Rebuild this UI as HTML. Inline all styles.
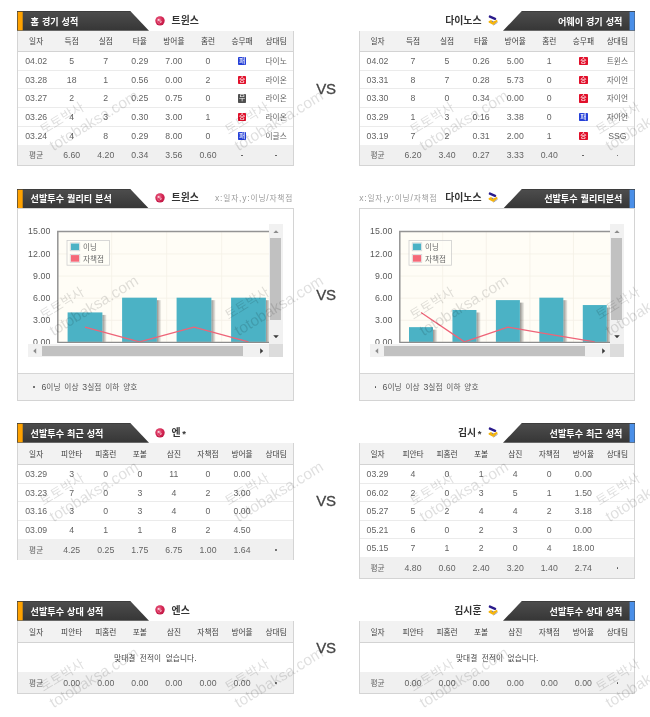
<!DOCTYPE html>
<html lang="ko"><head><meta charset="utf-8"><title>match stats</title><style>
html,body{margin:0;padding:0;background:#fff}
body{width:650px;height:717px;overflow:hidden;position:relative;font-family:"Liberation Sans","Noto Sans CJK KR",sans-serif;font-size:9px;color:#555}
#pg{filter:blur(0.35px);position:absolute;left:0;top:0;width:650px;height:717px;overflow:hidden;background:#fff}
.b,.t,.tl,.tr,.ttl,.ic,.bd,.sc,.wm,.ab,.vp{position:absolute}
.t,.tl,.tr{white-space:nowrap;line-height:10px;height:10px;font-size:8.7px}
.t{transform:translateX(-50%)}
span.k{font-family:"Liberation Sans","Noto Sans CJK KR",sans-serif;font-size:7.7px}
span.k.kb{font-size:9.1px;font-weight:bold}
.nm span.k.kb{font-size:9.9px}
.tb{background:#fff;border:1px solid #d4d4d4;box-sizing:border-box}
.th{background:#f2f2f2;border-bottom:1px solid #d3d3d3;box-sizing:border-box}
.tf{background:#f0f0f0}
.rl{background:#ebebeb}
.dt{background:#505050;border-radius:50%}
.cf{background:#f3f3f3}
.cl{background:#d6d6d6}
.h{color:#404040}
.d{color:#636363;letter-spacing:0.05px}
.tt{color:#fff;font-size:10.6px;font-weight:bold}
.nm{color:#333;font-weight:bold;font-size:10px}
.as{position:relative;top:1.2px;margin-left:1.6px;font-size:9.5px}
.cap{color:#9a9a9a;font-size:8.6px;letter-spacing:0.8px}
.fn{color:#555;word-spacing:1.3px}
.fn .dot{display:inline-block;width:1.9px;height:1.9px;border-radius:50%;background:#4a4a4a;margin:0 6px 0 0.6px;vertical-align:2.3px;font-size:0;line-height:0;overflow:hidden}
.bd{width:8.4px;height:8.6px;color:#fff;line-height:8.6px;text-align:center;border-radius:0.8px;overflow:hidden}
.bd span.k{display:block;font-size:6.8px;line-height:8.6px}
.sc{overflow:hidden}
.vs{background:#f1f1f1}
.hs{background:#f1f1f1}
.cr{background:#dcdcdc}
.thumb{background:#c1c1c1}
.yl{color:#5a5a5a;font-size:8.8px;letter-spacing:0.1px}
.lg{color:#6a6a6a}
.lg span.k{font-size:7.6px}
.t.vs{background:none;color:#454545;-webkit-text-stroke:0.3px #454545;font-size:15px;letter-spacing:-0.3px;line-height:16px;height:16px}
.wm{width:0;height:0;transform:rotate(-31.5deg);transform-origin:0 0;color:rgba(0,0,0,0.13);pointer-events:none}
.wm div{position:absolute;white-space:nowrap}
.w1{left:-0.6px;top:-31.2px;line-height:15px;height:15px}
.w1 span.k{font-size:13.3px;line-height:15px}
.w2{left:-0.5px;top:-13.4px;font-size:15.5px;line-height:16px;height:16px}
</style></head><body><svg width="0" height="0" style="position:absolute"><defs><linearGradient id="tg" x1="0" y1="0" x2="0" y2="1"><stop offset="0" stop-color="#333"/><stop offset="0.06" stop-color="#4c4c4c"/><stop offset="1" stop-color="#363636"/></linearGradient><radialGradient id="lg" cx="0.4" cy="0.35" r="0.7"><stop offset="0" stop-color="#ea6488"/><stop offset="0.55" stop-color="#d42552"/><stop offset="1" stop-color="#bd1543"/></radialGradient><linearGradient id="sh" x1="0" y1="0" x2="1" y2="0"><stop offset="0" stop-color="#000" stop-opacity=".42"/><stop offset="1" stop-color="#000" stop-opacity=".04"/></linearGradient></defs></svg><div id="pg"><svg class="ttl" style="left:17.1px;top:11.2px" width="132.1" height="19.8" viewBox="0 0 132.1 19.8"><path d="M0 0H113.3L132.1 19.8H0Z" fill="url(#tg)"/><rect x="0.7" y="0.8" width="5" height="18.5" fill="#ffa200"/></svg><div class="tl tt" style="left:30.6px;top:16.33px;"><span class="k kb">홈</span> <span class="k kb">경기</span> <span class="k kb">성적</span></div><svg class="ic" style="left:154px;top:14.6px" width="12" height="12" viewBox="0 0 12 12"><circle cx="6" cy="5.85" r="4.7" fill="url(#lg)"/><circle cx="4.4" cy="4.9" r="0.9" fill="#fdeaf0" opacity=".9"/><path d="M5.7 4.4L6.4 7.6L8 6.5" fill="none" stroke="#f9d3dc" stroke-width="0.9" opacity=".85"/><path d="M3.2 6.2A3 3 0 0 0 6 9" fill="none" stroke="#f3b3c3" stroke-width="0.6" opacity=".6"/></svg><div class="tl nm" style="left:171.6px;top:15.54px;"><span class="k kb">트윈스</span></div><svg class="ttl" style="left:503.2px;top:11.2px" width="132.1" height="19.8" viewBox="0 0 132.1 19.8"><path d="M18.8 0H132.1V19.8H0Z" fill="url(#tg)"/><rect x="126.6" y="0.8" width="5" height="18.5" fill="#4a8fe8"/></svg><div class="tr tt" style="right:27.6px;top:16.33px;"><span class="k kb">어웨이</span> <span class="k kb">경기</span> <span class="k kb">성적</span></div><svg class="ic" style="left:483px;top:10px" width="20" height="20" viewBox="0 0 20 20"><path d="M6.9 6.6L12.1 8.8" stroke="#2a1b8c" stroke-width="2.4" stroke-linecap="round"/><path d="M10.4 15.2L14.6 12.2" stroke="#6b7099" stroke-width="0.7"/><path d="M5.6 11.2L8 9.9L10.2 11.4L14 9.7L14.6 11.6L10.3 14.9L5.7 12.6Z" fill="#f3b40f"/><circle cx="9.6" cy="11.4" r="0.7" fill="#7c82b0"/></svg><div class="tr nm" style="right:168.5px;top:15.54px;"><span class="k kb">다이노스</span></div><div class="b tb" style="left:17.1px;top:31px;width:276.5px;height:134.8px;"></div><div class="b th" style="left:18.1px;top:31px;width:274.5px;height:20.9px;"></div><div class="t h" style="left:36.2px;top:35.99px;"><span class="k">일자</span></div><div class="t h" style="left:71.7px;top:35.99px;"><span class="k">득점</span></div><div class="t h" style="left:105.77px;top:35.99px;"><span class="k">실점</span></div><div class="t h" style="left:139.84px;top:35.99px;"><span class="k">타율</span></div><div class="t h" style="left:173.91px;top:35.99px;"><span class="k">방어율</span></div><div class="t h" style="left:207.98px;top:35.99px;"><span class="k">홈런</span></div><div class="t h" style="left:242.05px;top:35.99px;"><span class="k">승무패</span></div><div class="t h" style="left:276.12px;top:35.99px;"><span class="k">상대팀</span></div><div class="t d" style="left:36.2px;top:55.99px;">04.02</div><div class="t d" style="left:71.7px;top:55.99px;">5</div><div class="t d" style="left:105.77px;top:55.99px;">7</div><div class="t d" style="left:139.84px;top:55.99px;">0.29</div><div class="t d" style="left:173.91px;top:55.99px;">7.00</div><div class="t d" style="left:207.98px;top:55.99px;">0</div><div class="bd" style="left:237.85px;top:56.84px;background:#2540d8"><span class="k">패</span></div><div class="t d" style="left:276.12px;top:55.99px;"><span class="k">다이노</span></div><div class="b rl" style="left:18.1px;top:69.68px;width:274.5px;height:1px;"></div><div class="t d" style="left:36.2px;top:74.99px;">03.28</div><div class="t d" style="left:71.7px;top:74.99px;">18</div><div class="t d" style="left:105.77px;top:74.99px;">1</div><div class="t d" style="left:139.84px;top:74.99px;">0.56</div><div class="t d" style="left:173.91px;top:74.99px;">0.00</div><div class="t d" style="left:207.98px;top:74.99px;">2</div><div class="bd" style="left:237.85px;top:75.52px;background:#e10f2a"><span class="k">승</span></div><div class="t d" style="left:276.12px;top:74.99px;"><span class="k">라이온</span></div><div class="b rl" style="left:18.1px;top:88.36px;width:274.5px;height:1px;"></div><div class="t d" style="left:36.2px;top:92.99px;">03.27</div><div class="t d" style="left:71.7px;top:92.99px;">2</div><div class="t d" style="left:105.77px;top:92.99px;">2</div><div class="t d" style="left:139.84px;top:92.99px;">0.25</div><div class="t d" style="left:173.91px;top:92.99px;">0.75</div><div class="t d" style="left:207.98px;top:92.99px;">0</div><div class="bd" style="left:237.85px;top:94.2px;background:#505050"><span class="k">무</span></div><div class="t d" style="left:276.12px;top:92.99px;"><span class="k">라이온</span></div><div class="b rl" style="left:18.1px;top:107.04px;width:274.5px;height:1px;"></div><div class="t d" style="left:36.2px;top:111.99px;">03.26</div><div class="t d" style="left:71.7px;top:111.99px;">4</div><div class="t d" style="left:105.77px;top:111.99px;">3</div><div class="t d" style="left:139.84px;top:111.99px;">0.30</div><div class="t d" style="left:173.91px;top:111.99px;">3.00</div><div class="t d" style="left:207.98px;top:111.99px;">1</div><div class="bd" style="left:237.85px;top:112.88px;background:#e10f2a"><span class="k">승</span></div><div class="t d" style="left:276.12px;top:111.99px;"><span class="k">라이온</span></div><div class="b rl" style="left:18.1px;top:125.72px;width:274.5px;height:1px;"></div><div class="t d" style="left:36.2px;top:130.99px;">03.24</div><div class="t d" style="left:71.7px;top:130.99px;">4</div><div class="t d" style="left:105.77px;top:130.99px;">8</div><div class="t d" style="left:139.84px;top:130.99px;">0.29</div><div class="t d" style="left:173.91px;top:130.99px;">8.00</div><div class="t d" style="left:207.98px;top:130.99px;">0</div><div class="bd" style="left:237.85px;top:131.56px;background:#2540d8"><span class="k">패</span></div><div class="t d" style="left:276.12px;top:130.99px;"><span class="k">이글스</span></div><div class="b tf" style="left:18.1px;top:144.6px;width:274.5px;height:20.7px;"></div><div class="t d" style="left:36.2px;top:149.99px;"><span class="k">평균</span></div><div class="t d" style="left:71.7px;top:149.99px;">6.60</div><div class="t d" style="left:105.77px;top:149.99px;">4.20</div><div class="t d" style="left:139.84px;top:149.99px;">0.34</div><div class="t d" style="left:173.91px;top:149.99px;">3.56</div><div class="t d" style="left:207.98px;top:149.99px;">0.60</div><div class="b dt" style="left:241.15px;top:154.65px;width:1.8px;height:1.8px;"></div><div class="b dt" style="left:275.22px;top:154.65px;width:1.8px;height:1.8px;"></div><div class="b tb" style="left:359.2px;top:31px;width:276.1px;height:134.8px;"></div><div class="b th" style="left:360.2px;top:31px;width:274.1px;height:20.9px;"></div><div class="t h" style="left:377.5px;top:35.99px;"><span class="k">일자</span></div><div class="t h" style="left:413px;top:35.99px;"><span class="k">득점</span></div><div class="t h" style="left:447.07px;top:35.99px;"><span class="k">실점</span></div><div class="t h" style="left:481.14px;top:35.99px;"><span class="k">타율</span></div><div class="t h" style="left:515.21px;top:35.99px;"><span class="k">방어율</span></div><div class="t h" style="left:549.28px;top:35.99px;"><span class="k">홈런</span></div><div class="t h" style="left:583.35px;top:35.99px;"><span class="k">승무패</span></div><div class="t h" style="left:617.42px;top:35.99px;"><span class="k">상대팀</span></div><div class="t d" style="left:377.5px;top:55.99px;">04.02</div><div class="t d" style="left:413px;top:55.99px;">7</div><div class="t d" style="left:447.07px;top:55.99px;">5</div><div class="t d" style="left:481.14px;top:55.99px;">0.26</div><div class="t d" style="left:515.21px;top:55.99px;">5.00</div><div class="t d" style="left:549.28px;top:55.99px;">1</div><div class="bd" style="left:579.15px;top:56.84px;background:#e10f2a"><span class="k">승</span></div><div class="t d" style="left:617.42px;top:55.99px;"><span class="k">트윈스</span></div><div class="b rl" style="left:360.2px;top:69.68px;width:274.1px;height:1px;"></div><div class="t d" style="left:377.5px;top:74.99px;">03.31</div><div class="t d" style="left:413px;top:74.99px;">8</div><div class="t d" style="left:447.07px;top:74.99px;">7</div><div class="t d" style="left:481.14px;top:74.99px;">0.28</div><div class="t d" style="left:515.21px;top:74.99px;">5.73</div><div class="t d" style="left:549.28px;top:74.99px;">0</div><div class="bd" style="left:579.15px;top:75.52px;background:#e10f2a"><span class="k">승</span></div><div class="t d" style="left:617.42px;top:74.99px;"><span class="k">자이언</span></div><div class="b rl" style="left:360.2px;top:88.36px;width:274.1px;height:1px;"></div><div class="t d" style="left:377.5px;top:92.99px;">03.30</div><div class="t d" style="left:413px;top:92.99px;">8</div><div class="t d" style="left:447.07px;top:92.99px;">0</div><div class="t d" style="left:481.14px;top:92.99px;">0.34</div><div class="t d" style="left:515.21px;top:92.99px;">0.00</div><div class="t d" style="left:549.28px;top:92.99px;">0</div><div class="bd" style="left:579.15px;top:94.2px;background:#e10f2a"><span class="k">승</span></div><div class="t d" style="left:617.42px;top:92.99px;"><span class="k">자이언</span></div><div class="b rl" style="left:360.2px;top:107.04px;width:274.1px;height:1px;"></div><div class="t d" style="left:377.5px;top:111.99px;">03.29</div><div class="t d" style="left:413px;top:111.99px;">1</div><div class="t d" style="left:447.07px;top:111.99px;">3</div><div class="t d" style="left:481.14px;top:111.99px;">0.16</div><div class="t d" style="left:515.21px;top:111.99px;">3.38</div><div class="t d" style="left:549.28px;top:111.99px;">0</div><div class="bd" style="left:579.15px;top:112.88px;background:#2540d8"><span class="k">패</span></div><div class="t d" style="left:617.42px;top:111.99px;"><span class="k">자이언</span></div><div class="b rl" style="left:360.2px;top:125.72px;width:274.1px;height:1px;"></div><div class="t d" style="left:377.5px;top:130.99px;">03.19</div><div class="t d" style="left:413px;top:130.99px;">7</div><div class="t d" style="left:447.07px;top:130.99px;">2</div><div class="t d" style="left:481.14px;top:130.99px;">0.31</div><div class="t d" style="left:515.21px;top:130.99px;">2.00</div><div class="t d" style="left:549.28px;top:130.99px;">1</div><div class="bd" style="left:579.15px;top:131.56px;background:#e10f2a"><span class="k">승</span></div><div class="t d" style="left:617.42px;top:130.99px;">SSG</div><div class="b tf" style="left:360.2px;top:144.6px;width:274.1px;height:20.7px;"></div><div class="t d" style="left:377.5px;top:149.99px;"><span class="k">평균</span></div><div class="t d" style="left:413px;top:149.99px;">6.20</div><div class="t d" style="left:447.07px;top:149.99px;">3.40</div><div class="t d" style="left:481.14px;top:149.99px;">0.27</div><div class="t d" style="left:515.21px;top:149.99px;">3.33</div><div class="t d" style="left:549.28px;top:149.99px;">0.40</div><div class="b dt" style="left:582.45px;top:154.65px;width:1.8px;height:1.8px;"></div><div class="b dt" style="left:616.52px;top:154.65px;width:1.8px;height:1.8px;"></div><svg class="ttl" style="left:17.1px;top:188.5px" width="132.1" height="19.8" viewBox="0 0 132.1 19.8"><path d="M0 0H113.3L132.1 19.8H0Z" fill="url(#tg)"/><rect x="0.7" y="0.8" width="5" height="18.5" fill="#ffa200"/></svg><div class="tl tt" style="left:30.6px;top:193.33px;"><span class="k kb">선발투수</span> <span class="k kb">퀄리티</span> <span class="k kb">분석</span></div><svg class="ic" style="left:154px;top:191.9px" width="12" height="12" viewBox="0 0 12 12"><circle cx="6" cy="5.85" r="4.7" fill="url(#lg)"/><circle cx="4.4" cy="4.9" r="0.9" fill="#fdeaf0" opacity=".9"/><path d="M5.7 4.4L6.4 7.6L8 6.5" fill="none" stroke="#f9d3dc" stroke-width="0.9" opacity=".85"/><path d="M3.2 6.2A3 3 0 0 0 6 9" fill="none" stroke="#f3b3c3" stroke-width="0.6" opacity=".6"/></svg><div class="tl nm" style="left:171.6px;top:192.53px;"><span class="k kb">트윈스</span></div><div class="tl cap" style="left:215px;top:193.02px;">x:<span class="k">일자</span>,y:<span class="k">이닝</span>/<span class="k">자책점</span></div><svg class="ttl" style="left:503.2px;top:188.5px" width="132.1" height="19.8" viewBox="0 0 132.1 19.8"><path d="M18.8 0H132.1V19.8H0Z" fill="url(#tg)"/><rect x="126.6" y="0.8" width="5" height="18.5" fill="#4a8fe8"/></svg><div class="tr tt" style="right:27.6px;top:193.33px;"><span class="k kb">선발투수</span> <span class="k kb">퀄리티분석</span></div><svg class="ic" style="left:483px;top:187.3px" width="20" height="20" viewBox="0 0 20 20"><path d="M6.9 6.6L12.1 8.8" stroke="#2a1b8c" stroke-width="2.4" stroke-linecap="round"/><path d="M10.4 15.2L14.6 12.2" stroke="#6b7099" stroke-width="0.7"/><path d="M5.6 11.2L8 9.9L10.2 11.4L14 9.7L14.6 11.6L10.3 14.9L5.7 12.6Z" fill="#f3b40f"/><circle cx="9.6" cy="11.4" r="0.7" fill="#7c82b0"/></svg><div class="tr nm" style="right:168.5px;top:192.53px;"><span class="k kb">다이노스</span></div><div class="tr cap" style="right:212.7px;top:193.02px;">x:<span class="k">일자</span>,y:<span class="k">이닝</span>/<span class="k">자책점</span></div><div class="b tb" style="left:17.1px;top:208.3px;width:276.5px;height:192.4px;"></div><div class="b cf" style="left:18.1px;top:373.9px;width:274.5px;height:26px;"></div><div class="b cl" style="left:18.1px;top:373.4px;width:274.5px;height:1px;"></div><div class="tl d fn" style="left:32.9px;top:381.99px;"><span class="dot">·</span>6<span class="k">이닝</span> <span class="k">이상</span> 3<span class="k">실점</span> <span class="k">이하</span> <span class="k">양호</span></div><div class="sc" style="left:28.2px;top:224.4px;width:254.6px;height:133px"><svg class="vp" width="241.2" height="120" viewBox="0 0 241.2 120"><rect x="29.2" y="7.35" width="217" height="110.55" fill="#fffdf6"/><path d="M29.2 29.96H246.2" stroke="#f4f0e6" stroke-width="0.8"/><path d="M29.2 52.07H246.2" stroke="#f4f0e6" stroke-width="0.8"/><path d="M29.2 74.18H246.2" stroke="#f4f0e6" stroke-width="0.8"/><path d="M29.2 96.29H246.2" stroke="#f4f0e6" stroke-width="0.8"/><path d="M83.7 7.35V117.9" stroke="#f4f0e6" stroke-width="0.8"/><path d="M138.7 7.35V117.9" stroke="#f4f0e6" stroke-width="0.8"/><path d="M193.7 7.35V117.9" stroke="#f4f0e6" stroke-width="0.8"/><rect x="74.4" y="90.92" width="4.2" height="26.98" fill="url(#sh)"/><rect x="39.6" y="88.42" width="34.8" height="29.48" fill="#4bb2c5"/><rect x="128.9" y="76.18" width="4.2" height="41.72" fill="url(#sh)"/><rect x="94.1" y="73.68" width="34.8" height="44.22" fill="#4bb2c5"/><rect x="183.4" y="76.18" width="4.2" height="41.72" fill="url(#sh)"/><rect x="148.6" y="73.68" width="34.8" height="44.22" fill="#4bb2c5"/><rect x="237.9" y="76.18" width="4.2" height="41.72" fill="url(#sh)"/><rect x="203.1" y="73.68" width="34.8" height="44.22" fill="#4bb2c5"/><path d="M57 103.16L111.5 117.9L166 103.16L220.5 117.9" fill="none" stroke="#ee6478" stroke-width="1.3" stroke-linejoin="round"/><path d="M29.8 118.2V7.4H246.2" fill="none" stroke="#949494" stroke-width="1.5"/><path d="M29.2 118.35H246.2" fill="none" stroke="#8c8c8c" stroke-width="1.3"/><rect x="39" y="16.5" width="42.4" height="24.7" fill="#fffdf8" fill-opacity=".7" stroke="#cfcfcf" stroke-width="0.8"/><rect x="42.2" y="18.8" width="9.6" height="8" fill="#fff" stroke="#d2d2d2" stroke-width="0.7"/><rect x="42.9" y="19.5" width="8.2" height="6.6" fill="#4bb2c5"/><rect x="42.2" y="30.4" width="9.6" height="8" fill="#fff" stroke="#d2d2d2" stroke-width="0.7"/><rect x="42.9" y="31.1" width="8.2" height="6.6" fill="#f56978"/></svg><div class="tl lg" style="left:54.8px;top:17.59px"><span class="k">이닝</span></div><div class="tl lg" style="left:54.8px;top:29.59px"><span class="k">자책점</span></div><div class="tr yl" style="right:232.2px;top:1.55px">15.00</div><div class="tr yl" style="right:232.2px;top:24.55px">12.00</div><div class="tr yl" style="right:232.2px;top:46.55px">9.00</div><div class="tr yl" style="right:232.2px;top:68.55px">6.00</div><div class="tr yl" style="right:232.2px;top:90.55px">3.00</div><div class="tr yl" style="right:232.2px;top:112.55px">0.00</div><div class="b vs" style="left:241.2px;top:0;width:13.4px;height:120px"></div><div class="b thumb" style="left:241.9px;top:13.6px;width:10.9px;height:81.9px"></div><svg class="ab" style="left:244.7px;top:5.6px" width="6" height="3.4" viewBox="0 0 6 3.4"><path d="M0.2 3.2L3 0.2L5.8 3.2Z" fill="#8c8c8c"/></svg><svg class="ab" style="left:244.7px;top:110.7px" width="6" height="3.4" viewBox="0 0 6 3.4"><path d="M0.2 0.2L3 3.2L5.8 0.2Z" fill="#3a3a3a"/></svg><div class="b hs" style="left:0;top:120px;width:241.2px;height:13.4px"></div><div class="b thumb" style="left:13.6px;top:121.4px;width:201px;height:10.4px"></div><svg class="ab" style="left:5.2px;top:123.7px" width="3.4" height="6" viewBox="0 0 3.4 6"><path d="M3.2 0.2L0.2 3L3.2 5.8Z" fill="#8c8c8c"/></svg><svg class="ab" style="left:232px;top:123.7px" width="3.4" height="6" viewBox="0 0 3.4 6"><path d="M0.2 0.2L3.2 3L0.2 5.8Z" fill="#3a3a3a"/></svg><div class="b cr" style="left:241.2px;top:120px;width:13.4px;height:13.4px"></div></div><div class="b tb" style="left:359.2px;top:208.3px;width:276.1px;height:192.4px;"></div><div class="b cf" style="left:360.2px;top:373.9px;width:274.1px;height:26px;"></div><div class="b cl" style="left:360.2px;top:373.4px;width:274.1px;height:1px;"></div><div class="tl d fn" style="left:374px;top:381.99px;"><span class="dot">·</span>6<span class="k">이닝</span> <span class="k">이상</span> 3<span class="k">실점</span> <span class="k">이하</span> <span class="k">양호</span></div><div class="sc" style="left:370.2px;top:224.4px;width:253.6px;height:133px"><svg class="vp" width="240.2" height="120" viewBox="0 0 240.2 120"><rect x="29.2" y="7.35" width="216" height="110.55" fill="#fffdf6"/><path d="M29.2 29.96H245.2" stroke="#f4f0e6" stroke-width="0.8"/><path d="M29.2 52.07H245.2" stroke="#f4f0e6" stroke-width="0.8"/><path d="M29.2 74.18H245.2" stroke="#f4f0e6" stroke-width="0.8"/><path d="M29.2 96.29H245.2" stroke="#f4f0e6" stroke-width="0.8"/><path d="M72.7 7.35V117.9" stroke="#f4f0e6" stroke-width="0.8"/><path d="M116.3 7.35V117.9" stroke="#f4f0e6" stroke-width="0.8"/><path d="M159.9 7.35V117.9" stroke="#f4f0e6" stroke-width="0.8"/><path d="M203.5 7.35V117.9" stroke="#f4f0e6" stroke-width="0.8"/><path d="M247.1 7.35V117.9" stroke="#f4f0e6" stroke-width="0.8"/><rect x="63" y="105.66" width="4.2" height="12.24" fill="url(#sh)"/><rect x="39" y="103.16" width="24" height="14.74" fill="#4bb2c5"/><rect x="106.45" y="88.49" width="4.2" height="29.41" fill="url(#sh)"/><rect x="82.45" y="85.99" width="24" height="31.91" fill="#4bb2c5"/><rect x="149.9" y="78.61" width="4.2" height="39.29" fill="url(#sh)"/><rect x="125.9" y="76.11" width="24" height="41.79" fill="#4bb2c5"/><rect x="193.35" y="76.18" width="4.2" height="41.72" fill="url(#sh)"/><rect x="169.35" y="73.68" width="24" height="44.22" fill="#4bb2c5"/><rect x="236.8" y="83.55" width="4.2" height="34.35" fill="url(#sh)"/><rect x="212.8" y="81.05" width="24" height="36.85" fill="#4bb2c5"/><path d="M51 88.42L94.45 117.9L137.9 103.16L181.35 110.53L224.8 117.9" fill="none" stroke="#ee6478" stroke-width="1.3" stroke-linejoin="round"/><path d="M29.8 118.2V7.4H245.2" fill="none" stroke="#949494" stroke-width="1.5"/><path d="M29.2 118.35H245.2" fill="none" stroke="#8c8c8c" stroke-width="1.3"/><rect x="39" y="16.5" width="42.4" height="24.7" fill="#fffdf8" fill-opacity=".7" stroke="#cfcfcf" stroke-width="0.8"/><rect x="42.2" y="18.8" width="9.6" height="8" fill="#fff" stroke="#d2d2d2" stroke-width="0.7"/><rect x="42.9" y="19.5" width="8.2" height="6.6" fill="#4bb2c5"/><rect x="42.2" y="30.4" width="9.6" height="8" fill="#fff" stroke="#d2d2d2" stroke-width="0.7"/><rect x="42.9" y="31.1" width="8.2" height="6.6" fill="#f56978"/></svg><div class="tl lg" style="left:54.8px;top:17.59px"><span class="k">이닝</span></div><div class="tl lg" style="left:54.8px;top:29.59px"><span class="k">자책점</span></div><div class="tr yl" style="right:231.2px;top:1.55px">15.00</div><div class="tr yl" style="right:231.2px;top:24.55px">12.00</div><div class="tr yl" style="right:231.2px;top:46.55px">9.00</div><div class="tr yl" style="right:231.2px;top:68.55px">6.00</div><div class="tr yl" style="right:231.2px;top:90.55px">3.00</div><div class="tr yl" style="right:231.2px;top:112.55px">0.00</div><div class="b vs" style="left:240.2px;top:0;width:13.4px;height:120px"></div><div class="b thumb" style="left:240.9px;top:13.6px;width:10.9px;height:81.9px"></div><svg class="ab" style="left:243.7px;top:5.6px" width="6" height="3.4" viewBox="0 0 6 3.4"><path d="M0.2 3.2L3 0.2L5.8 3.2Z" fill="#8c8c8c"/></svg><svg class="ab" style="left:243.7px;top:110.7px" width="6" height="3.4" viewBox="0 0 6 3.4"><path d="M0.2 0.2L3 3.2L5.8 0.2Z" fill="#3a3a3a"/></svg><div class="b hs" style="left:0;top:120px;width:240.2px;height:13.4px"></div><div class="b thumb" style="left:13.6px;top:121.4px;width:201px;height:10.4px"></div><svg class="ab" style="left:5.2px;top:123.7px" width="3.4" height="6" viewBox="0 0 3.4 6"><path d="M3.2 0.2L0.2 3L3.2 5.8Z" fill="#8c8c8c"/></svg><svg class="ab" style="left:232px;top:123.7px" width="3.4" height="6" viewBox="0 0 3.4 6"><path d="M0.2 0.2L3.2 3L0.2 5.8Z" fill="#3a3a3a"/></svg><div class="b cr" style="left:240.2px;top:120px;width:13.4px;height:13.4px"></div></div><svg class="ttl" style="left:17.1px;top:423.1px" width="132.1" height="19.8" viewBox="0 0 132.1 19.8"><path d="M0 0H113.3L132.1 19.8H0Z" fill="url(#tg)"/><rect x="0.7" y="0.8" width="5" height="18.5" fill="#ffa200"/></svg><div class="tl tt" style="left:30.6px;top:428.33px;"><span class="k kb">선발투수</span> <span class="k kb">최근</span> <span class="k kb">성적</span></div><svg class="ic" style="left:154px;top:426.5px" width="12" height="12" viewBox="0 0 12 12"><circle cx="6" cy="5.85" r="4.7" fill="url(#lg)"/><circle cx="4.4" cy="4.9" r="0.9" fill="#fdeaf0" opacity=".9"/><path d="M5.7 4.4L6.4 7.6L8 6.5" fill="none" stroke="#f9d3dc" stroke-width="0.9" opacity=".85"/><path d="M3.2 6.2A3 3 0 0 0 6 9" fill="none" stroke="#f3b3c3" stroke-width="0.6" opacity=".6"/></svg><div class="tl nm" style="left:171.6px;top:427.54px;"><span class="k kb">엔</span><span class="as">*</span></div><svg class="ttl" style="left:503.2px;top:423.1px" width="132.1" height="19.8" viewBox="0 0 132.1 19.8"><path d="M18.8 0H132.1V19.8H0Z" fill="url(#tg)"/><rect x="126.6" y="0.8" width="5" height="18.5" fill="#4a8fe8"/></svg><div class="tr tt" style="right:27.6px;top:428.33px;"><span class="k kb">선발투수</span> <span class="k kb">최근</span> <span class="k kb">성적</span></div><svg class="ic" style="left:483px;top:421.9px" width="20" height="20" viewBox="0 0 20 20"><path d="M6.9 6.6L12.1 8.8" stroke="#2a1b8c" stroke-width="2.4" stroke-linecap="round"/><path d="M10.4 15.2L14.6 12.2" stroke="#6b7099" stroke-width="0.7"/><path d="M5.6 11.2L8 9.9L10.2 11.4L14 9.7L14.6 11.6L10.3 14.9L5.7 12.6Z" fill="#f3b40f"/><circle cx="9.6" cy="11.4" r="0.7" fill="#7c82b0"/></svg><div class="tr nm" style="right:168.5px;top:427.54px;"><span class="k kb">김시</span><span class="as">*</span></div><div class="b tb" style="left:17.1px;top:442.9px;width:276.5px;height:117.3px;"></div><div class="b th" style="left:18.1px;top:442.9px;width:274.5px;height:21.9px;"></div><div class="t h" style="left:36.2px;top:448.99px;"><span class="k">일자</span></div><div class="t h" style="left:71.7px;top:448.99px;"><span class="k">피안타</span></div><div class="t h" style="left:105.77px;top:448.99px;"><span class="k">피홈런</span></div><div class="t h" style="left:139.84px;top:448.99px;"><span class="k">포볼</span></div><div class="t h" style="left:173.91px;top:448.99px;"><span class="k">삼진</span></div><div class="t h" style="left:207.98px;top:448.99px;"><span class="k">자책점</span></div><div class="t h" style="left:242.05px;top:448.99px;"><span class="k">방어율</span></div><div class="t h" style="left:276.12px;top:448.99px;"><span class="k">상대팀</span></div><div class="t d" style="left:36.2px;top:468.99px;">03.29</div><div class="t d" style="left:71.7px;top:468.99px;">3</div><div class="t d" style="left:105.77px;top:468.99px;">0</div><div class="t d" style="left:139.84px;top:468.99px;">0</div><div class="t d" style="left:173.91px;top:468.99px;">11</div><div class="t d" style="left:207.98px;top:468.99px;">0</div><div class="t d" style="left:242.05px;top:468.99px;">0.00</div><div class="b rl" style="left:18.1px;top:482.5px;width:274.5px;height:1px;"></div><div class="t d" style="left:36.2px;top:487.99px;">03.23</div><div class="t d" style="left:71.7px;top:487.99px;">7</div><div class="t d" style="left:105.77px;top:487.99px;">0</div><div class="t d" style="left:139.84px;top:487.99px;">3</div><div class="t d" style="left:173.91px;top:487.99px;">4</div><div class="t d" style="left:207.98px;top:487.99px;">2</div><div class="t d" style="left:242.05px;top:487.99px;">3.00</div><div class="b rl" style="left:18.1px;top:501.1px;width:274.5px;height:1px;"></div><div class="t d" style="left:36.2px;top:505.99px;">03.16</div><div class="t d" style="left:71.7px;top:505.99px;">3</div><div class="t d" style="left:105.77px;top:505.99px;">0</div><div class="t d" style="left:139.84px;top:505.99px;">3</div><div class="t d" style="left:173.91px;top:505.99px;">4</div><div class="t d" style="left:207.98px;top:505.99px;">0</div><div class="t d" style="left:242.05px;top:505.99px;">0.00</div><div class="b rl" style="left:18.1px;top:519.7px;width:274.5px;height:1px;"></div><div class="t d" style="left:36.2px;top:524.99px;">03.09</div><div class="t d" style="left:71.7px;top:524.99px;">4</div><div class="t d" style="left:105.77px;top:524.99px;">1</div><div class="t d" style="left:139.84px;top:524.99px;">1</div><div class="t d" style="left:173.91px;top:524.99px;">8</div><div class="t d" style="left:207.98px;top:524.99px;">2</div><div class="t d" style="left:242.05px;top:524.99px;">4.50</div><div class="b tf" style="left:18.1px;top:538.5px;width:274.5px;height:21.2px;"></div><div class="t d" style="left:36.2px;top:544.99px;"><span class="k">평균</span></div><div class="t d" style="left:71.7px;top:544.99px;">4.25</div><div class="t d" style="left:105.77px;top:544.99px;">0.25</div><div class="t d" style="left:139.84px;top:544.99px;">1.75</div><div class="t d" style="left:173.91px;top:544.99px;">6.75</div><div class="t d" style="left:207.98px;top:544.99px;">1.00</div><div class="t d" style="left:242.05px;top:544.99px;">1.64</div><div class="b dt" style="left:275.22px;top:548.8px;width:1.8px;height:1.8px;"></div><div class="b tb" style="left:359.2px;top:442.9px;width:276.1px;height:135.9px;"></div><div class="b th" style="left:360.2px;top:442.9px;width:274.1px;height:21.9px;"></div><div class="t h" style="left:377.5px;top:448.99px;"><span class="k">일자</span></div><div class="t h" style="left:413px;top:448.99px;"><span class="k">피안타</span></div><div class="t h" style="left:447.07px;top:448.99px;"><span class="k">피홈런</span></div><div class="t h" style="left:481.14px;top:448.99px;"><span class="k">포볼</span></div><div class="t h" style="left:515.21px;top:448.99px;"><span class="k">삼진</span></div><div class="t h" style="left:549.28px;top:448.99px;"><span class="k">자책점</span></div><div class="t h" style="left:583.35px;top:448.99px;"><span class="k">방어율</span></div><div class="t h" style="left:617.42px;top:448.99px;"><span class="k">상대팀</span></div><div class="t d" style="left:377.5px;top:468.99px;">03.29</div><div class="t d" style="left:413px;top:468.99px;">4</div><div class="t d" style="left:447.07px;top:468.99px;">0</div><div class="t d" style="left:481.14px;top:468.99px;">1</div><div class="t d" style="left:515.21px;top:468.99px;">4</div><div class="t d" style="left:549.28px;top:468.99px;">0</div><div class="t d" style="left:583.35px;top:468.99px;">0.00</div><div class="b rl" style="left:360.2px;top:482.5px;width:274.1px;height:1px;"></div><div class="t d" style="left:377.5px;top:487.99px;">06.02</div><div class="t d" style="left:413px;top:487.99px;">2</div><div class="t d" style="left:447.07px;top:487.99px;">0</div><div class="t d" style="left:481.14px;top:487.99px;">3</div><div class="t d" style="left:515.21px;top:487.99px;">5</div><div class="t d" style="left:549.28px;top:487.99px;">1</div><div class="t d" style="left:583.35px;top:487.99px;">1.50</div><div class="b rl" style="left:360.2px;top:501.1px;width:274.1px;height:1px;"></div><div class="t d" style="left:377.5px;top:505.99px;">05.27</div><div class="t d" style="left:413px;top:505.99px;">5</div><div class="t d" style="left:447.07px;top:505.99px;">2</div><div class="t d" style="left:481.14px;top:505.99px;">4</div><div class="t d" style="left:515.21px;top:505.99px;">4</div><div class="t d" style="left:549.28px;top:505.99px;">2</div><div class="t d" style="left:583.35px;top:505.99px;">3.18</div><div class="b rl" style="left:360.2px;top:519.7px;width:274.1px;height:1px;"></div><div class="t d" style="left:377.5px;top:524.99px;">05.21</div><div class="t d" style="left:413px;top:524.99px;">6</div><div class="t d" style="left:447.07px;top:524.99px;">0</div><div class="t d" style="left:481.14px;top:524.99px;">2</div><div class="t d" style="left:515.21px;top:524.99px;">3</div><div class="t d" style="left:549.28px;top:524.99px;">0</div><div class="t d" style="left:583.35px;top:524.99px;">0.00</div><div class="b rl" style="left:360.2px;top:538.3px;width:274.1px;height:1px;"></div><div class="t d" style="left:377.5px;top:542.99px;">05.15</div><div class="t d" style="left:413px;top:542.99px;">7</div><div class="t d" style="left:447.07px;top:542.99px;">1</div><div class="t d" style="left:481.14px;top:542.99px;">2</div><div class="t d" style="left:515.21px;top:542.99px;">0</div><div class="t d" style="left:549.28px;top:542.99px;">4</div><div class="t d" style="left:583.35px;top:542.99px;">18.00</div><div class="b tf" style="left:360.2px;top:557.1px;width:274.1px;height:21.2px;"></div><div class="t d" style="left:377.5px;top:562.99px;"><span class="k">평균</span></div><div class="t d" style="left:413px;top:562.99px;">4.80</div><div class="t d" style="left:447.07px;top:562.99px;">0.60</div><div class="t d" style="left:481.14px;top:562.99px;">2.40</div><div class="t d" style="left:515.21px;top:562.99px;">3.20</div><div class="t d" style="left:549.28px;top:562.99px;">1.40</div><div class="t d" style="left:583.35px;top:562.99px;">2.74</div><div class="b dt" style="left:616.52px;top:567.4px;width:1.8px;height:1.8px;"></div><svg class="ttl" style="left:17.1px;top:601px" width="132.1" height="19.8" viewBox="0 0 132.1 19.8"><path d="M0 0H113.3L132.1 19.8H0Z" fill="url(#tg)"/><rect x="0.7" y="0.8" width="5" height="18.5" fill="#ffa200"/></svg><div class="tl tt" style="left:30.6px;top:606.33px;"><span class="k kb">선발투수</span> <span class="k kb">상대</span> <span class="k kb">성적</span></div><svg class="ic" style="left:154px;top:604.4px" width="12" height="12" viewBox="0 0 12 12"><circle cx="6" cy="5.85" r="4.7" fill="url(#lg)"/><circle cx="4.4" cy="4.9" r="0.9" fill="#fdeaf0" opacity=".9"/><path d="M5.7 4.4L6.4 7.6L8 6.5" fill="none" stroke="#f9d3dc" stroke-width="0.9" opacity=".85"/><path d="M3.2 6.2A3 3 0 0 0 6 9" fill="none" stroke="#f3b3c3" stroke-width="0.6" opacity=".6"/></svg><div class="tl nm" style="left:171.6px;top:605.53px;"><span class="k kb">엔스</span></div><svg class="ttl" style="left:503.2px;top:601px" width="132.1" height="19.8" viewBox="0 0 132.1 19.8"><path d="M18.8 0H132.1V19.8H0Z" fill="url(#tg)"/><rect x="126.6" y="0.8" width="5" height="18.5" fill="#4a8fe8"/></svg><div class="tr tt" style="right:27.6px;top:606.33px;"><span class="k kb">선발투수</span> <span class="k kb">상대</span> <span class="k kb">성적</span></div><svg class="ic" style="left:483px;top:599.8px" width="20" height="20" viewBox="0 0 20 20"><path d="M6.9 6.6L12.1 8.8" stroke="#2a1b8c" stroke-width="2.4" stroke-linecap="round"/><path d="M10.4 15.2L14.6 12.2" stroke="#6b7099" stroke-width="0.7"/><path d="M5.6 11.2L8 9.9L10.2 11.4L14 9.7L14.6 11.6L10.3 14.9L5.7 12.6Z" fill="#f3b40f"/><circle cx="9.6" cy="11.4" r="0.7" fill="#7c82b0"/></svg><div class="tr nm" style="right:168.5px;top:605.53px;"><span class="k kb">김시훈</span></div><div class="b tb" style="left:17.1px;top:620.8px;width:276.5px;height:73px;"></div><div class="b th" style="left:18.1px;top:620.8px;width:274.5px;height:22.2px;"></div><div class="t h" style="left:36.2px;top:626.99px;"><span class="k">일자</span></div><div class="t h" style="left:71.7px;top:626.99px;"><span class="k">피안타</span></div><div class="t h" style="left:105.77px;top:626.99px;"><span class="k">피홈런</span></div><div class="t h" style="left:139.84px;top:626.99px;"><span class="k">포볼</span></div><div class="t h" style="left:173.91px;top:626.99px;"><span class="k">삼진</span></div><div class="t h" style="left:207.98px;top:626.99px;"><span class="k">자책점</span></div><div class="t h" style="left:242.05px;top:626.99px;"><span class="k">방어율</span></div><div class="t h" style="left:276.12px;top:626.99px;"><span class="k">상대팀</span></div><div class="t d" style="left:155.35px;top:652.99px;word-spacing:2px;color:#4a4a4a"><span class="k">맞대결</span> <span class="k">전적이</span> <span class="k">없습니다</span>.</div><div class="b tf" style="left:18.1px;top:672px;width:274.5px;height:21.3px;"></div><div class="t d" style="left:36.2px;top:677.99px;"><span class="k">평균</span></div><div class="t d" style="left:71.7px;top:677.99px;">0.00</div><div class="t d" style="left:105.77px;top:677.99px;">0.00</div><div class="t d" style="left:139.84px;top:677.99px;">0.00</div><div class="t d" style="left:173.91px;top:677.99px;">0.00</div><div class="t d" style="left:207.98px;top:677.99px;">0.00</div><div class="t d" style="left:242.05px;top:677.99px;">0.00</div><div class="b dt" style="left:275.22px;top:682.35px;width:1.8px;height:1.8px;"></div><div class="b tb" style="left:359.2px;top:620.8px;width:276.1px;height:73px;"></div><div class="b th" style="left:360.2px;top:620.8px;width:274.1px;height:22.2px;"></div><div class="t h" style="left:377.5px;top:626.99px;"><span class="k">일자</span></div><div class="t h" style="left:413px;top:626.99px;"><span class="k">피안타</span></div><div class="t h" style="left:447.07px;top:626.99px;"><span class="k">피홈런</span></div><div class="t h" style="left:481.14px;top:626.99px;"><span class="k">포볼</span></div><div class="t h" style="left:515.21px;top:626.99px;"><span class="k">삼진</span></div><div class="t h" style="left:549.28px;top:626.99px;"><span class="k">자책점</span></div><div class="t h" style="left:583.35px;top:626.99px;"><span class="k">방어율</span></div><div class="t h" style="left:617.42px;top:626.99px;"><span class="k">상대팀</span></div><div class="t d" style="left:497.25px;top:652.99px;word-spacing:2px;color:#4a4a4a"><span class="k">맞대결</span> <span class="k">전적이</span> <span class="k">없습니다</span>.</div><div class="b tf" style="left:360.2px;top:672px;width:274.1px;height:21.3px;"></div><div class="t d" style="left:377.5px;top:677.99px;"><span class="k">평균</span></div><div class="t d" style="left:413px;top:677.99px;">0.00</div><div class="t d" style="left:447.07px;top:677.99px;">0.00</div><div class="t d" style="left:481.14px;top:677.99px;">0.00</div><div class="t d" style="left:515.21px;top:677.99px;">0.00</div><div class="t d" style="left:549.28px;top:677.99px;">0.00</div><div class="t d" style="left:583.35px;top:677.99px;">0.00</div><div class="b dt" style="left:616.52px;top:682.35px;width:1.8px;height:1.8px;"></div><div class="t vs" style="left:326px;top:80.8px;">VS</div><div class="t vs" style="left:326px;top:286.8px;">VS</div><div class="t vs" style="left:326px;top:492.8px;">VS</div><div class="t vs" style="left:326px;top:639.8px;">VS</div><div class="wm" style="left:53.7px;top:150.8px"><div class="w1"><span class="k">토토박사</span></div><div class="w2">totobaksa.com</div></div><div class="wm" style="left:239px;top:150.8px"><div class="w1"><span class="k">토토박사</span></div><div class="w2">totobaksa.com</div></div><div class="wm" style="left:424.3px;top:150.8px"><div class="w1"><span class="k">토토박사</span></div><div class="w2">totobaksa.com</div></div><div class="wm" style="left:609.6px;top:150.8px"><div class="w1"><span class="k">토토박사</span></div><div class="w2">totobaksa.com</div></div><div class="wm" style="left:53.7px;top:336.4px"><div class="w1"><span class="k">토토박사</span></div><div class="w2">totobaksa.com</div></div><div class="wm" style="left:239px;top:336.4px"><div class="w1"><span class="k">토토박사</span></div><div class="w2">totobaksa.com</div></div><div class="wm" style="left:424.3px;top:336.4px"><div class="w1"><span class="k">토토박사</span></div><div class="w2">totobaksa.com</div></div><div class="wm" style="left:609.6px;top:336.4px"><div class="w1"><span class="k">토토박사</span></div><div class="w2">totobaksa.com</div></div><div class="wm" style="left:53.7px;top:522px"><div class="w1"><span class="k">토토박사</span></div><div class="w2">totobaksa.com</div></div><div class="wm" style="left:239px;top:522px"><div class="w1"><span class="k">토토박사</span></div><div class="w2">totobaksa.com</div></div><div class="wm" style="left:424.3px;top:522px"><div class="w1"><span class="k">토토박사</span></div><div class="w2">totobaksa.com</div></div><div class="wm" style="left:609.6px;top:522px"><div class="w1"><span class="k">토토박사</span></div><div class="w2">totobaksa.com</div></div><div class="wm" style="left:53.7px;top:707.6px"><div class="w1"><span class="k">토토박사</span></div><div class="w2">totobaksa.com</div></div><div class="wm" style="left:239px;top:707.6px"><div class="w1"><span class="k">토토박사</span></div><div class="w2">totobaksa.com</div></div><div class="wm" style="left:424.3px;top:707.6px"><div class="w1"><span class="k">토토박사</span></div><div class="w2">totobaksa.com</div></div><div class="wm" style="left:609.6px;top:707.6px"><div class="w1"><span class="k">토토박사</span></div><div class="w2">totobaksa.com</div></div></div></body></html>
